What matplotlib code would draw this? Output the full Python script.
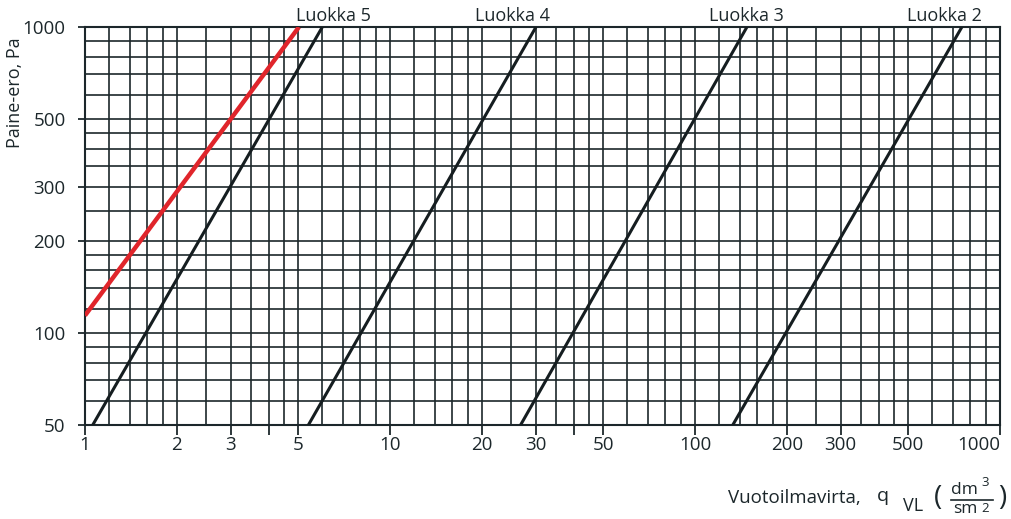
import matplotlib.pyplot as plt
import numpy as np

# luokkien suorat: vuotoilmavirta kohdissa 50 Pa ja 1000 Pa
paine = [50, 1000]
luokka5 = [1.06, 6.0]
luokka4 = [5.4, 30.1]
luokka3 = [26.8, 148]
luokka2 = [133, 750]
luokat = ['Luokka 5', 'Luokka 4', 'Luokka 3', 'Luokka 2']
nimi_x = [6.5, 25.3, 147, 656]   # nimen paikka ylareunassa

# punainen suora
punainen_q = [1.0, 5.03]
punainen_p = [114, 1000]

x_ticks = [1, 2, 3, 5, 10, 20, 30, 50, 100, 200, 300, 500, 1000]
y_ticks = [50, 100, 200, 300, 500, 1000]
jako = [1, 1.2, 1.4, 1.6, 1.8, 2, 2.5, 3, 3.5, 4, 4.5, 5, 6, 7, 8, 9]

tumma = '#1c272b'
plt.rcParams['font.family'] = ['Open Sans', 'DejaVu Sans']

fig = plt.figure(figsize=(10.12, 5.19), dpi=100)
ax = fig.add_axes([85/1012, 1-425/519, 915/1012, 398/519])
ax.set_xscale('log')
ax.set_yscale('log')
ax.set_xlim(1, 1000)
ax.set_ylim(50, 1000)

# ruudukko
x_grid = [j*10**k for k in range(3) for j in jako] + [1000]
y_grid = [v for v in x_grid + [j*1000 for j in jako] if 50 <= v <= 1000]
for v in x_grid:
    ax.axvline(v, color=tumma, lw=1.2, zorder=1)
for v in y_grid:
    ax.axhline(v, color=tumma, lw=1.2, zorder=1)

# luokkien suorat
for q in [luokka5, luokka4, luokka3, luokka2]:
    ax.plot(q, paine, color='#151d20', lw=2.2, zorder=3)
ax.plot(punainen_q, punainen_p, color='#e0252b', lw=3.2, zorder=4,
        solid_capstyle='butt')

for nimi, x in zip(luokat, nimi_x):
    ax.text(x, 1000*1.015, nimi, ha='center', va='bottom', fontsize=13,
            color=tumma)

# akselit
for s in ax.spines.values():
    s.set_color(tumma)
    s.set_linewidth(1.5)
ax.set_xticks(x_ticks)
ax.set_xticklabels([str(t) for t in x_ticks])
ax.set_xticks([4, 40], minor=True)
ax.set_yticks(y_ticks)
ax.set_yticklabels([str(t) for t in y_ticks])
ax.yaxis.set_minor_locator(plt.NullLocator())
ax.tick_params(axis='both', which='both', direction='out', length=7,
               width=1.3, color=tumma, labelcolor=tumma, labelsize=13.5, pad=1)
ax.tick_params(axis='y', length=5, pad=9)
ax.get_xticklabels()[-1].set_ha('right')

# akselien nimet
fig.text(15/1012, 1-93/519, 'Paine-ero, Pa', rotation=90, ha='center',
         va='center', fontsize=13, color=tumma)
fig.text(728/1012, 1-498/519, 'Vuotoilmavirta,', ha='left', va='center',
         fontsize=13.5, color=tumma)
fig.text(877/1012, 1-496/519, 'q', ha='left', va='center', fontsize=14,
         color=tumma)
fig.text(903/1012, 1-506/519, 'VL', ha='left', va='center', fontsize=13,
         color=tumma)
fig.text(934/1012, 1-498/519, '(', ha='left', va='center', fontsize=20,
         color=tumma)
fig.text(951/1012, 1-490/519, 'dm', ha='left', va='center', fontsize=12.5,
         color=tumma)
fig.text(981/1012, 1-483/519, '3', ha='left', va='center', fontsize=9.5,
         color=tumma)
fig.text(953/1012, 1-509/519, 'sm', ha='left', va='center', fontsize=12.5,
         color=tumma)
fig.text(981/1012, 1-508/519, '2', ha='left', va='center', fontsize=9.5,
         color=tumma)
fig.add_artist(plt.Line2D([951/1012, 993/1012], [1-500/519, 1-500/519],
                          color=tumma, lw=1.2))
fig.text(998/1012, 1-498/519, ')', ha='left', va='center', fontsize=20,
         color=tumma)

fig.savefig('out.png', dpi=100)
